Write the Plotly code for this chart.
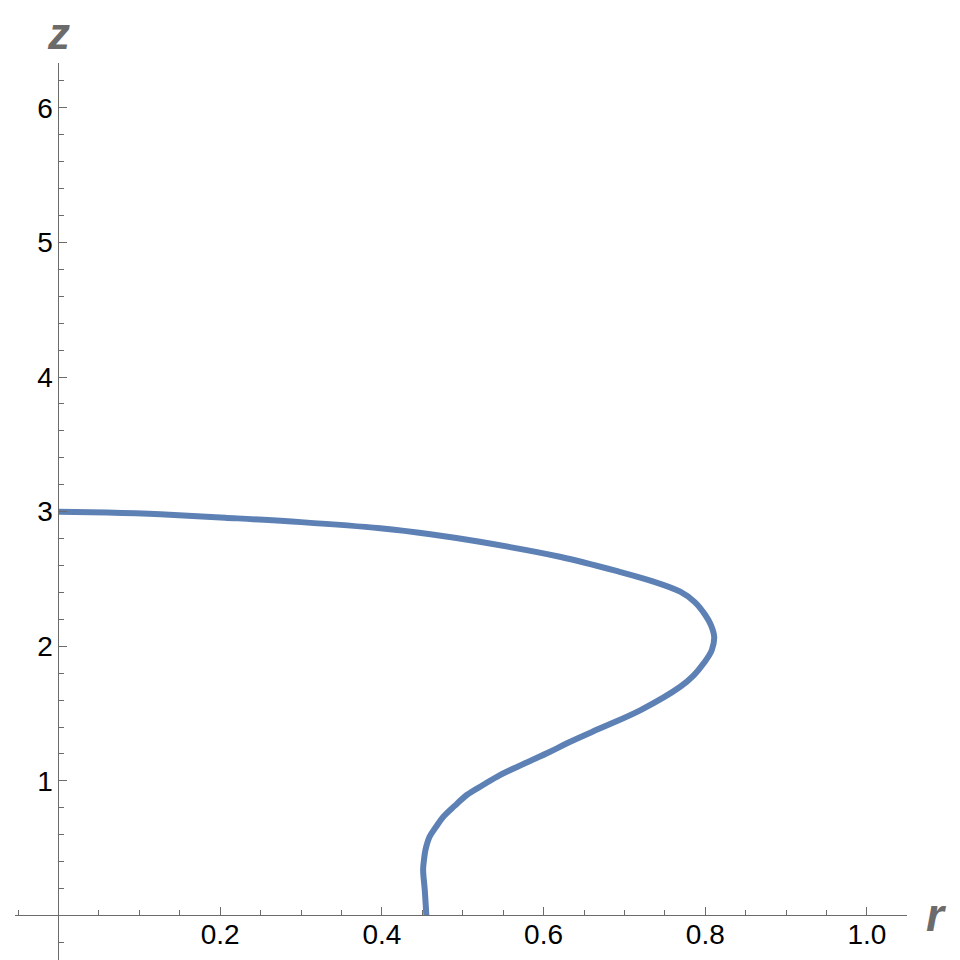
import plotly.graph_objects as go

# curve, from the foot (z=0) up to the top (r=0)
r_vals = [0.455, 0.453, 0.451, 0.452, 0.454, 0.459, 0.467, 0.476, 0.490, 0.505,
          0.525, 0.546, 0.577, 0.608, 0.629, 0.670, 0.720, 0.769, 0.786, 0.798,
          0.808, 0.811, 0.807, 0.800, 0.787, 0.769, 0.732, 0.694, 0.620, 0.521,
          0.460, 0.398, 0.300, 0.206, 0.126, 0.060, 0.0]
z_vals = [0.0, 0.19, 0.34, 0.41, 0.49, 0.585, 0.659, 0.733, 0.814, 0.895,
          0.969, 1.043, 1.13, 1.216, 1.279, 1.39, 1.526, 1.699, 1.786, 1.873,
          1.97, 2.07, 2.157, 2.232, 2.328, 2.405, 2.488, 2.553, 2.665, 2.776,
          2.832, 2.876, 2.922, 2.955, 2.98, 2.993, 3.0]

x_ticks = [0.2, 0.4, 0.6, 0.8, 1.0]
x_labels = ["0.2", "0.4", "0.6", "0.8", "1.0"]
y_ticks = [1, 2, 3, 4, 5, 6]
y_labels = ["1", "2", "3", "4", "5", "6"]

X_RANGE = [-0.0538, 1.0495]
Y_RANGE = [-0.331, 6.333]
AXIS_GRAY = "#6b6b6b"
FONT = "Liberation Sans, Arial, sans-serif"

fig = go.Figure()
fig.add_trace(
    go.Scatter(
        x=r_vals,
        y=z_vals,
        mode="lines",
        line=dict(color="#5E81B5", width=6, shape="spline", smoothing=1.0),
        hoverinfo="skip",
        showlegend=False,
    )
)

# axes cross at the origin, like Mathematica
x_pos = -Y_RANGE[0] / (Y_RANGE[1] - Y_RANGE[0])
y_pos = -X_RANGE[0] / (X_RANGE[1] - X_RANGE[0])

common = dict(
    anchor="free",
    automargin=False,
    showline=True,
    linecolor=AXIS_GRAY,
    linewidth=1,
    showgrid=False,
    zeroline=False,
    ticks="inside",
    ticklen=8,
    tickcolor=AXIS_GRAY,
    tickfont=dict(family=FONT, size=28, color="black"),
)

fig.update_xaxes(
    range=X_RANGE,
    position=x_pos,
    tickvals=x_ticks,
    ticktext=x_labels,
    ticklabelstandoff=-6,
    minor=dict(ticks="inside", dtick=0.05, tick0=0, ticklen=5, tickcolor=AXIS_GRAY),
    **common,
)
fig.update_yaxes(
    range=Y_RANGE,
    position=y_pos,
    tickvals=y_ticks,
    ticktext=y_labels,
    minor=dict(ticks="inside", dtick=0.2, tick0=0, ticklen=5, tickcolor=AXIS_GRAY),
    **common,
)

# the page body adds an 8px offset, so the figure is 952 wide and high
MARGIN_T = 55
PLOT_H = 952 - MARGIN_T

fig.add_annotation(
    text="<b><i>z</i></b>", xref="x", x=0, yref="paper", y=1 + MARGIN_T / PLOT_H,
    xanchor="center", yanchor="top", showarrow=False, borderpad=0,
    font=dict(family=FONT, size=44, color=AXIS_GRAY),
)
fig.add_annotation(
    text="<b><i>r</i></b>", xref="paper", x=1.0325, yref="y", y=0,
    xanchor="center", yanchor="middle", showarrow=False,
    font=dict(family=FONT, size=46, color=AXIS_GRAY),
)

fig.update_layout(
    width=952,
    height=952,
    margin=dict(l=7, r=53, t=MARGIN_T, b=0, autoexpand=False),
    plot_bgcolor="white",
    paper_bgcolor="white",
)

fig.write_html("out.html")
